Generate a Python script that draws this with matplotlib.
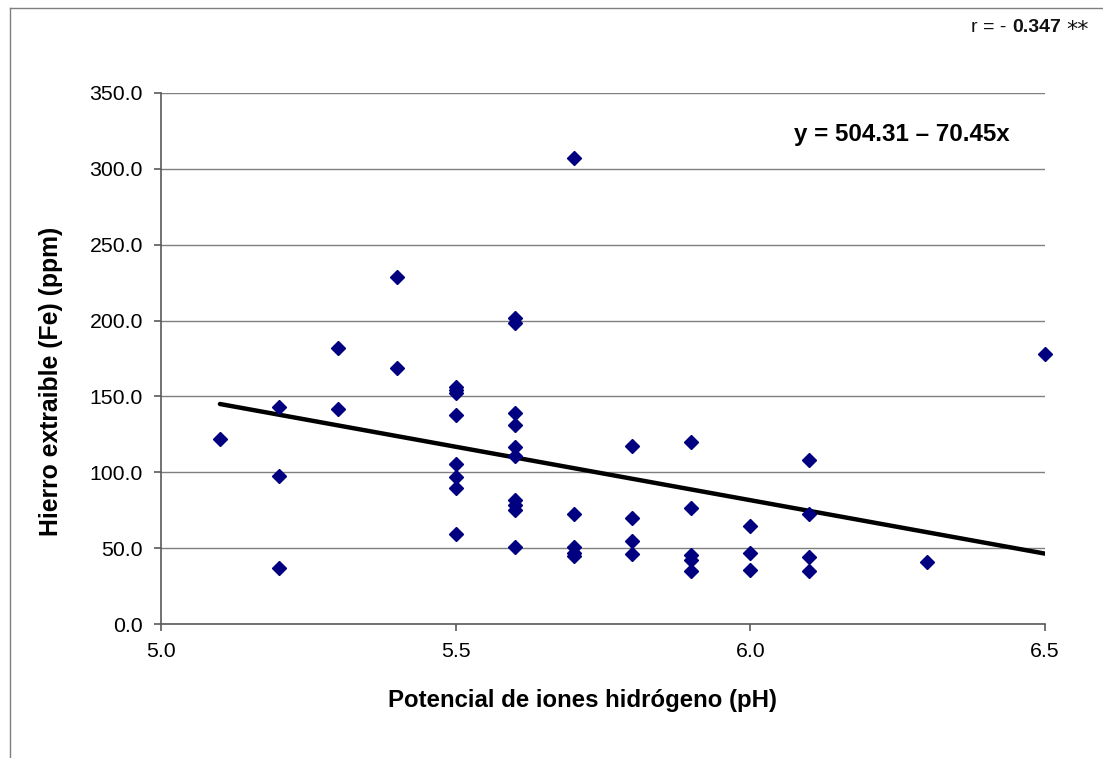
import matplotlib
matplotlib.use("Agg")
import matplotlib.pyplot as plt
from matplotlib.lines import Line2D

plt.rcParams['font.family'] = ['Liberation Sans', 'DejaVu Sans']

ph = [5.1, 5.2, 5.2, 5.2, 5.3, 5.3, 5.4, 5.4,
      5.5, 5.5, 5.5, 5.5, 5.5, 5.5, 5.5, 5.5,
      5.6, 5.6, 5.6, 5.6, 5.6, 5.6, 5.6, 5.6, 5.6, 5.6,
      5.7, 5.7, 5.7, 5.7, 5.7,
      5.8, 5.8, 5.8, 5.8,
      5.9, 5.9, 5.9, 5.9, 5.9,
      6.0, 6.0, 6.0,
      6.1, 6.1, 6.1, 6.1,
      6.3, 6.5]
fe = [121.8, 143.2, 97.8, 36.7, 182.1, 141.7, 228.9, 168.5,
      156.0, 154.0, 152.0, 137.8, 105.3, 97.1, 89.4, 59.1,
      201.6, 198.4, 138.9, 131.2, 116.5, 111.0, 82.0, 78.5, 75.3, 51.0,
      307.2, 72.3, 51.0, 47.0, 45.0,
      117.5, 70.1, 54.7, 46.1,
      120.2, 76.7, 45.5, 42.2, 35.2,
      64.6, 47.0, 35.6,
      108.1, 72.5, 44.4, 35.2,
      40.9, 178.0]

intercept = 504.31
slope = -70.45
trend_x = [5.1, 6.5]
trend_y = [intercept + slope * v for v in trend_x]

xticks = [5.0, 5.5, 6.0, 6.5]
yticks = [0, 50, 100, 150, 200, 250, 300, 350]

W, H = 1103, 758
fig = plt.figure(figsize=(W / 100, H / 100), dpi=100)
ax = fig.add_axes([161/W, 1-624/H, (1045-161)/W, (624-93)/H])

ax.set_xlim(5.0, 6.5)
ax.set_ylim(0, 350)
ax.set_xticks(xticks)
ax.set_xticklabels([f"{v:.1f}" for v in xticks])
ax.set_yticks(yticks)
ax.set_yticklabels([f"{v:.1f}" for v in yticks])

ax.yaxis.grid(True, color='#7f7f7f', linewidth=1.0)
ax.set_axisbelow(True)
for s in ['top', 'right']:
    ax.spines[s].set_visible(False)
for s in ['left', 'bottom']:
    ax.spines[s].set_color('#5a5a5a')
    ax.spines[s].set_linewidth(1.2)

ax.tick_params(axis='both', direction='out', length=5, width=1.2, color='#5a5a5a',
               labelsize=15.3, pad=8)

ax.plot(trend_x, trend_y, color='black', linewidth=3.2, solid_capstyle='round', zorder=2)
ax.plot(ph, fe, linestyle='none', marker='D', markersize=7.0, color='#000080',
        markeredgecolor='#000080', zorder=3, clip_on=False)

fig.text(582/W, 1-700/H, 'Potencial de iones hidrógeno (pH)', fontsize=17.3,
         fontweight='bold', ha='center', va='center')
fig.text(51/W, 1-381/H, 'Hierro extraible (Fe) (ppm)', fontsize=17.8,
         fontweight='bold', ha='center', va='center', rotation=90)

fig.text(1010/W, 1-135/H, 'y = 504.31 – 70.45x', fontsize=17.4,
         fontweight='bold', ha='right', va='center')

# r annotation
fig.text(971/W, 1-28/H, 'r = - ', fontsize=14, ha='left', va='center', color='#111111')
fig.text(1012/W, 1-28/H, '0.347', fontsize=14, fontweight='bold', ha='left', va='center',
         color='#111111')
fig.text(1066/W, 1-30/H, '**', fontsize=16, ha='left', va='center', family='DejaVu Sans',
         color='#111111')

# outer frame
fig.add_artist(Line2D([10/W, 1.0], [1-8/H, 1-8/H], transform=fig.transFigure,
                      color='#7f7f7f', linewidth=1.0))
fig.add_artist(Line2D([10/W, 10/W], [0.0, 1-8/H], transform=fig.transFigure,
                      color='#7f7f7f', linewidth=1.0))

fig.savefig('out.png', dpi=100, facecolor='white')
